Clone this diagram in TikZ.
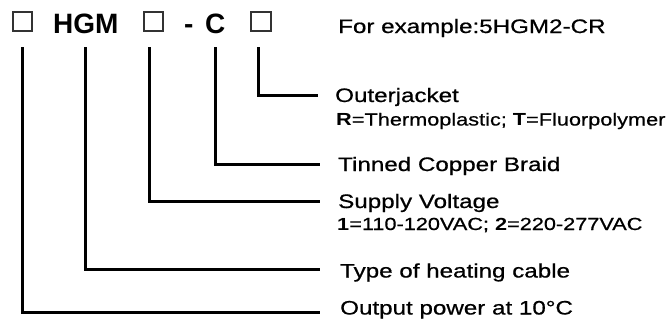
\documentclass[tikz,border=0pt]{standalone}
\usepackage{fontspec}
\setmainfont{Liberation Sans}[FakeStretch=1.24, UprightFeatures={FakeBold=0.7}]
\newfontfamily\topfont{Liberation Sans}
\begin{document}
\begin{tikzpicture}[x=1pt,y=-1pt,
  conn/.style={line width=3pt, line join=miter},
  mainlab/.style={anchor=base west, inner sep=0pt, font=\fontsize{19.5}{20}\selectfont},
  sublab/.style={anchor=base west, inner sep=0pt, font=\fontsize{17.5}{18}\selectfont},
  topbox/.style={draw=black!80, line width=1.7pt, minimum size=19.5pt, inner sep=0pt},
  toptext/.style={anchor=base west, inner sep=0pt, font=\topfont\bfseries\fontsize{28}{30}\selectfont}]
\useasboundingbox (0,0) rectangle (672,327);

% top row
\node[topbox] (b1) at (22.5,21.5) {};
\node[toptext] (hgm) at (53,33) {HGM};
\node[topbox] (b2) at (153.5,21.5) {};
\node[toptext] (dash) at (184,33) {-};
\node[toptext] (cc) at (205,33) {C};
\node[topbox] (b3) at (261,21.5) {};
\node[mainlab] (ex) at (338,33) {For example:5HGM2-CR};

% line tops and ends
\coordinate (t1) at (22.5,47);
\coordinate (t2) at (85,47);
\coordinate (t3) at (149,47);
\coordinate (t4) at (215,47);
\coordinate (t5) at (258,47);
\coordinate (e1) at (320,312);
\coordinate (e2) at (320,269);
\coordinate (e3) at (320,201);
\coordinate (e4) at (320,164);
\coordinate (e5) at (318,95);

% labels
\node[mainlab] (l5) at (335,102) {Outerjacket};
\node[sublab] (s5) at (336,125.5) {\textbf{R}=Thermoplastic; \textbf{T}=Fluorpolymer};
\node[mainlab] (l4) at (338,171) {Tinned Copper Braid};
\node[mainlab] (l3) at (338,208) {Supply Voltage};
\node[sublab] (s3) at (337,230) {\textbf{1}=110-120VAC; \textbf{2}=220-277VAC};
\node[mainlab] (l2) at (340,277.5) {Type of heating cable};
\node[mainlab] (l1) at (340,314.5) {Output power at 10°C};

% connectors
\draw[conn] (t1) |- (e1);
\draw[conn] (t2) |- (e2);
\draw[conn] (t3) |- (e3);
\draw[conn] (t4) |- (e4);
\draw[conn] (t5) |- (e5);
\end{tikzpicture}
\end{document}
